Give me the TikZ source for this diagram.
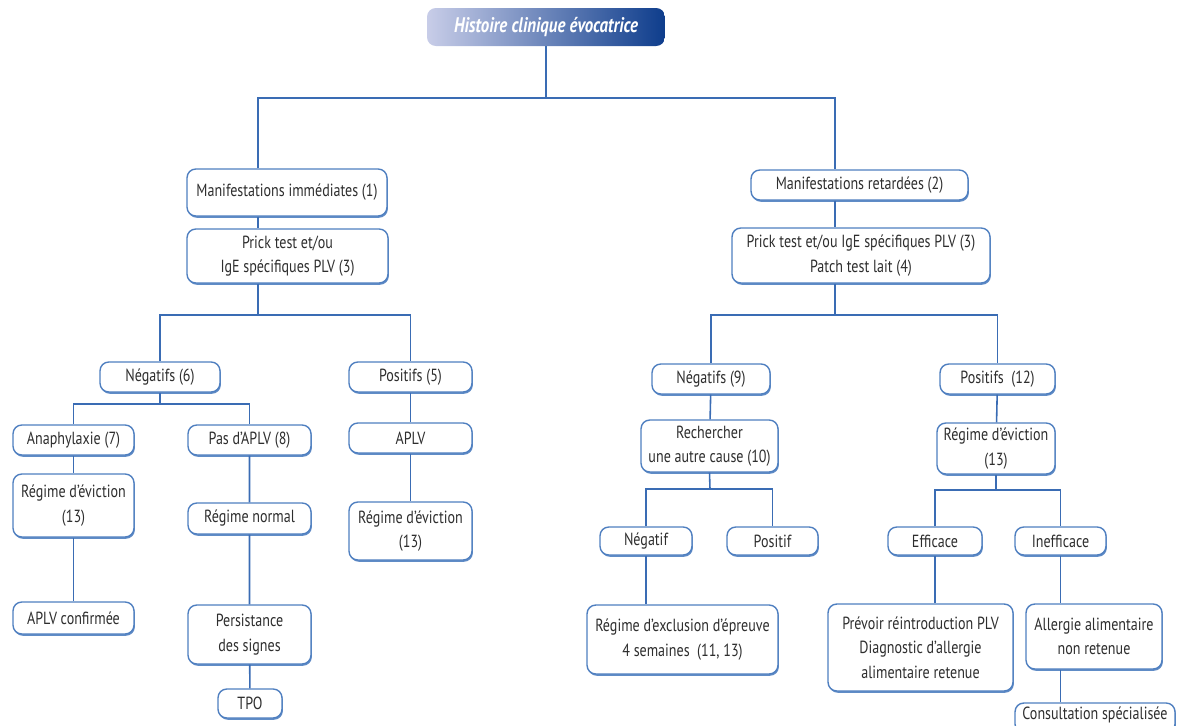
\documentclass[tikz,border=0pt]{standalone}
\usepackage{fontspec}
\setmainfont[FakeStretch=0.8]{PT Sans}
\usepackage{tikz}
\usetikzlibrary{shadows}

\definecolor{boxblue}{HTML}{4F7FC0}
\definecolor{linkblue}{HTML}{3A6CB4}
\definecolor{txtgray}{HTML}{2E2E2E}
\definecolor{titlelight}{HTML}{C8CDE8}
\definecolor{titledark}{HTML}{0E3D8C}

\begin{document}
\begin{tikzpicture}[
        x=0.02cm, y=-0.02cm,
        box/.style={rectangle, draw=boxblue, line width=0.8pt, rounded corners=5pt, fill=white,
            align=center, text=txtgray, inner sep=1pt,
            font=\fontsize{10}{14}\selectfont,
            drop shadow={shadow xshift=0.5pt, shadow yshift=-1pt, fill=boxblue, opacity=0.9}},
        head/.style={rectangle, rounded corners=5pt, left color=titlelight, right color=titledark,
            text=white, font=\fontsize{12}{14}\selectfont\bfseries\itshape},
        link/.style={draw=linkblue, line width=0.9pt}
    ]
        \useasboundingbox (0,0) rectangle (1183,725);

        % top
        \node[head, minimum width=4.76cm, minimum height=0.76cm] (title) at (546,27) {Histoire clinique évocatrice};

        \node[box, minimum width=4cm, minimum height=0.94cm] (mi) at (287,192.5) {Manifestations immédiates (1)};
        \node[box, minimum width=4.02cm, minimum height=1.08cm] (pt1) at (287.5,256) {Prick test et/ou\\IgE spécifiques PLV (3)};
        \node[box, minimum width=4.34cm, minimum height=0.6cm] (mr) at (859.5,185) {Manifestations retardées (2)};
        \node[box, minimum width=5.16cm, minimum height=1.1cm] (pt2) at (861,255.5) {Prick test et/ou IgE spécifiques PLV (3)\\Patch test lait (4)};

        % left branch
        \node[box, minimum width=2.4cm, minimum height=0.6cm] (neg6) at (160,377) {Négatifs (6)};
        \node[box, minimum width=2.46cm, minimum height=0.6cm] (pos5) at (410.5,377) {Positifs (5)};
        \node[box, minimum width=2.42cm, minimum height=0.6cm] (ana) at (73.5,440) {Anaphylaxie (7)};
        \node[box, minimum width=2.46cm, minimum height=0.6cm] (pas) at (249.5,440) {Pas d'APLV (8)};
        \node[box, minimum width=2.42cm, minimum height=1.26cm] (rev1) at (73.5,505.5) {Régime d'éviction\\(13)};
        \node[box, minimum width=2.42cm, minimum height=0.64cm] (aplvc) at (73.5,618) {APLV confirmée};
        \node[box, minimum width=2.46cm, minimum height=0.62cm] (rn) at (249.5,518.5) {Régime normal};
        \node[box, minimum width=2.46cm, minimum height=1.18cm] (pers) at (249.5,634.5) {Persistance\\des signes};
        \node[box, minimum width=1.28cm, minimum height=0.58cm] (tpo) at (250,703.5) {TPO};
        \node[box, minimum width=2.46cm, minimum height=0.6cm] (aplv) at (410.5,438) {APLV};
        \node[box, minimum width=2.46cm, minimum height=1.16cm] (rev2) at (410.5,531) {Régime d'éviction\\(13)};

        % right branch
        \node[box, minimum width=2.36cm, minimum height=0.6cm] (neg9) at (711,379) {Négatifs (9)};
        \node[box, minimum width=2.3cm, minimum height=0.6cm] (pos12) at (997.5,379) {Positifs \ (12)};
        \node[box, minimum width=2.74cm, minimum height=1.04cm] (rech) at (709.5,446) {Rechercher\\une autre cause (10)};
        \node[box, minimum width=1.84cm, minimum height=0.56cm] (negf) at (646,541) {Négatif};
        \node[box, minimum width=1.82cm, minimum height=0.56cm] (posf) at (772.5,541) {Positif};
        \node[box, minimum width=3.82cm, minimum height=1.38cm] (rex) at (682.5,639.5) {Régime d'exclusion d'épreuve\\4 semaines \ (11, 13)};
        \node[box, minimum width=2.36cm, minimum height=1.02cm] (rev3) at (996,448.5) {Régime d'éviction\\(13)};
        \node[box, minimum width=1.88cm, minimum height=0.56cm] (eff) at (935,541) {Efficace};
        \node[box, minimum width=1.82cm, minimum height=0.56cm] (ineff) at (1060.5,541) {Inefficace};
        \node[box, minimum width=3.7cm, minimum height=1.74cm] (prev) at (920.5,647.5) {Prévoir réintroduction PLV\\Diagnostic d'allergie\\alimentaire retenue};
        \node[box, minimum width=2.72cm, minimum height=1.3cm] (allg) at (1094,636.5) {Allergie alimentaire\\non retenue};
        \node[box, minimum width=3.2cm, minimum height=0.6cm, text depth=6pt] (cons) at (1095,718) {Consultation spécialisée};

        % connectors
        \coordinate (top) at (546,98);
        \coordinate (tl) at (258,98);
        \coordinate (tr) at (835,98);
        \draw[link] (title) -- (top);
        \draw[link] (tl |- mi.north) -- (tl) -- (tr) -- (tr |- mr.north);
        \draw[link] (tl |- mi.south) -- (tl |- pt1.north);
        \draw[link] (tr |- mr.south) -- (tr |- pt2.north);

        \coordinate (s1) at (258,315);
        \draw[link] (tl |- pt1.south) -- (s1);
        \draw[link] (neg6.north) |- (s1) -| (pos5.north);
        \coordinate (s2) at (160,404);
        \draw[link] (neg6.south) -- (s2);
        \draw[link] (ana.north) |- (s2) -| (pas.north);
        \draw[link] (ana) -- (rev1) -- (aplvc);
        \draw[link] (pas) -- (rn) -- (pers) -- (tpo);
        \draw[link] (pos5) -- (aplv) -- (rev2);

        \coordinate (s3) at (835,315);
        \draw[link] (tr |- pt2.south) -- (s3);
        \draw[link] (neg9.north) |- (s3) -| (pos12.north);
        \draw[link] (neg9) -- (rech);
        \coordinate (s4) at (710,489);
        \draw[link] (rech.south) -- (s4);
        \draw[link] (negf.north) |- (s4) -| (posf.north);
        \draw[link] (negf.south) -- (negf.south |- rex.north);
        \draw[link] (pos12) -- (rev3);
        \coordinate (s5) at (996,490);
        \draw[link] (rev3.south) -- (s5);
        \draw[link] (eff.north) |- (s5) -| (ineff.north);
        \draw[link] (eff.south) -- (eff.south |- prev.north);
        \draw[link] (ineff.south) -- (ineff.south |- allg.north);
        \draw[link] (ineff.south |- allg.south) -- (ineff.south |- cons.north);
    \end{tikzpicture}
\end{document}
